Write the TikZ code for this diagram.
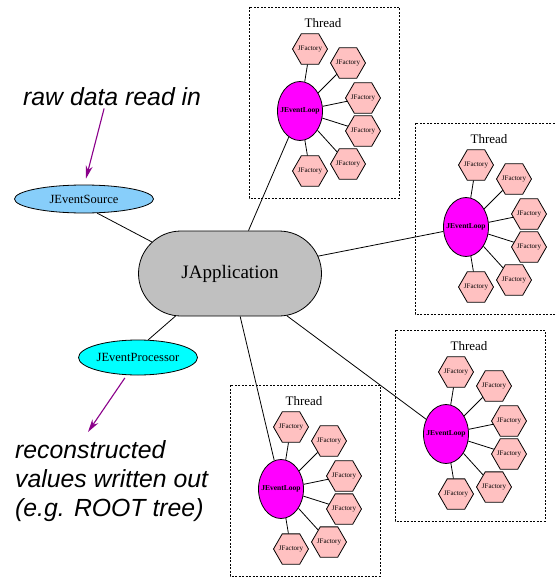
\documentclass[tikz,border=0pt]{standalone}
\usepackage{fontspec}
\setmainfont{Liberation Serif}
\newfontfamily\helvfam{Liberation Sans}
\usetikzlibrary{shapes.geometric,shapes.misc,arrows.meta,calc}
\definecolor{appgray}{RGB}{192,192,192}
\definecolor{srcblue}{RGB}{135,206,250}
\definecolor{factpink}{RGB}{255,193,193}
\definecolor{arrowpurple}{RGB}{139,0,139}
\definecolor{loopmagenta}{RGB}{255,0,255}
\definecolor{proccyan}{RGB}{0,255,255}
\tikzset{
  every node/.style={inner sep=0pt},
  link/.style={line width=0.8pt},
  appnode/.style={rounded rectangle, draw, line width=0.8pt, fill=appgray,
    minimum width=183pt, minimum height=85pt, font=\fontsize{19}{22}\selectfont},
  srcnode/.style={ellipse, draw, line width=0.8pt, fill=srcblue,
    minimum width=139pt, minimum height=28pt, font=\fontsize{12.5}{14}\selectfont},
  procnode/.style={ellipse, draw, line width=0.8pt, fill=proccyan, inner xsep=-6pt,
    minimum width=119pt, minimum height=35pt, font=\fontsize{12.5}{14}\selectfont},
  loopnode/.style={ellipse, draw, line width=0.8pt, fill=loopmagenta, inner xsep=-10pt,
    minimum width=45pt, minimum height=59pt, font=\bfseries\fontsize{7.5}{9}\selectfont},
  factory/.style={regular polygon, regular polygon sides=6, draw, line width=0.8pt,
    fill=factpink, inner xsep=-3pt, minimum size=35pt, font=\fontsize{7}{8}\selectfont},
  threadframe/.style={dash pattern=on 2pt off 1.5pt, line width=0.8pt},
  threadlabel/.style={font=\fontsize{13}{15}\selectfont},
  note/.style={font=\helvfam\itshape\fontsize{24.8}{29}\selectfont, align=left},
  arr/.style={draw=arrowpurple, line width=1.1pt, -{Stealth[length=13pt,width=7pt]}}
}
\newcommand\threadbox[2]{%
  \begin{scope}[shift={#2}]
    \draw[threadframe] (0,0) rectangle (150,191);
    \node[threadlabel] (#1t) at (74,16) {Thread};
    \node[loopnode] (#1l) at (51,104) {JEventLoop};
    \node[factory] (#1f1) at (61,42) {JFactory};
    \node[factory] (#1f2) at (99,56) {JFactory};
    \node[factory] (#1f3) at (114,91) {JFactory};
    \node[factory] (#1f4) at (114,124) {JFactory};
    \node[factory] (#1f5) at (99,157) {JFactory};
    \node[factory] (#1f6) at (61,164) {JFactory};
    \foreach \k in {1,...,6} \draw[link] (#1l) -- (#1f\k);
  \end{scope}}
\begin{document}
\begin{tikzpicture}[x=1pt,y=-1pt]
\useasboundingbox (0,0) rectangle (555,578);
\clip (0,0) rectangle (555,578);
\fill[white] (0,0) rectangle (555,578);

\threadbox{ta}{(249,7)}
\threadbox{tb}{(415,123)}
\threadbox{tc}{(395,330)}
\threadbox{td}{(230,385)}

\node[appnode] (japp) at (230,273.5) {JApplication};
\node[srcnode] (jes) at (84,199) {JEventSource};
\node[procnode] (jep) at (138,357.5) {JEventProcessor};

\draw[link] (jes.-47) -- (japp.158);
\draw[link] (jep.60) -- (japp.-142);
\draw[link] (japp) -- (tal);
\draw[link] (japp) -- (tbl);
\draw[link] (japp) -- (tcl);
\draw[link] (japp) -- (tdl);

\node[note, anchor=base west] (raw) at (23,105) {raw data read in};
\node[note, anchor=north west] (out) at (15,440) {reconstructed\\values written out\\(e.g. ROOT tree)};

\draw[arr] ($(raw.south)+(-8,3)$) -- ($(jes.north)+(2,-6)$);
\draw[arr] ($(jep.-127)+(0,3)$) -- ($(out.north west)+(73,-8)$);
\end{tikzpicture}
\end{document}
